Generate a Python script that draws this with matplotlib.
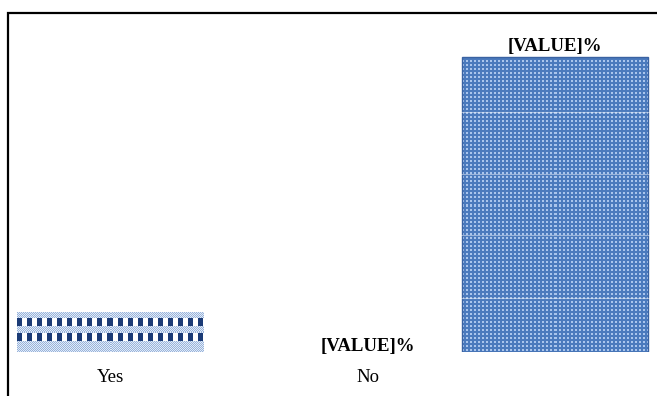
import numpy as np
import matplotlib.pyplot as plt
from matplotlib.patches import Rectangle
from matplotlib.colors import to_rgb

categories = ["Yes", "No", ""]
values = [12, 0, 88]
value_labels = ["", "[VALUE]%", "[VALUE]%"]
grid_values = [16.1, 34.9, 53.1, 71.6]

plt.rcParams['font.family'] = ['Liberation Serif', 'DejaVu Serif']


def checks_texture(w, h):
    # light blue weave with two rows of navy blocks
    yy, xx = np.mgrid[0:h, 0:w]
    light = np.array(to_rgb('#e2ebf7'))
    mid = np.array(to_rgb('#98b3db'))
    img = np.where(((xx + yy) % 2 == 0)[..., None], light, mid)
    for top in (7, 21):
        row = (yy >= top) & (yy < top + 8)
        img[row & (xx % 10 < 5)] = to_rgb('#1b3b76')
        img[row & (xx % 10 >= 5)] = (1, 1, 1)
    return img


def dots_texture(w, h):
    # blue fill with small light dots
    yy, xx = np.mgrid[0:h, 0:w]
    base = np.array(to_rgb('#4b7abd'))
    dot = np.array(to_rgb('#aac5ec'))
    mask = (xx % 4 < 2) & (yy % 4 < 2)
    return np.where(mask[..., None], dot, base)


fig = plt.figure(figsize=(6.57, 3.96), dpi=100)
ax = fig.add_axes([0, 44 / 396, 1, 332 / 396])

slot_x = [0, 1.16, 2]
ax.set_xlim(-110 / 222.5, (657 - 110) / 222.5)
ax.set_ylim(0, 99)

bars = ax.bar(slot_x, values, width=0.836, color='none', edgecolor='none', zorder=1)
textures = [checks_texture, None, dots_texture]
edges = ['none', 'none', '#3a62a2']

for bar, tex, ec in zip(bars, textures, edges):
    if tex is None or bar.get_height() <= 0:
        continue
    bb = bar.get_window_extent()
    w, h = int(round(bb.width)), int(round(bb.height))
    x0 = bar.get_x()
    im = ax.imshow(tex(w, h), extent=(x0, x0 + bar.get_width(), 0, bar.get_height()),
                   interpolation='nearest', aspect='auto', zorder=2)
    im.set_clip_path(bar)
    bar.set_edgecolor(ec)
    bar.set_linewidth(1.0)
    bar.set_zorder(3)

# faint gridlines, only show up over the filled bar
for g in grid_values:
    ax.axhline(g, color='white', alpha=0.45, lw=0.8, zorder=4)

offsets = [0, -2.5, 1.5]
for x, v, lab, off in zip(slot_x, values, value_labels, offsets):
    if lab:
        ax.annotate(lab, (x, v), xytext=(0, off), textcoords='offset points',
                    ha='center', va='bottom', fontsize=13.5, fontweight='bold', color='black')

ax.set_xticks(slot_x, categories, fontsize=13.5, color='black')
ax.tick_params(axis='x', length=0, pad=12)
ax.set_yticks([])
for s in ax.spines.values():
    s.set_visible(False)

# outer frame, right and bottom edges fall off the canvas
fig.add_artist(Rectangle((8 / 657, -0.2), 1.2, (396 - 13) / 396 + 0.2,
                         transform=fig.transFigure, fill=False, ec='black', lw=1.6))

fig.savefig('out.png', dpi=100)
